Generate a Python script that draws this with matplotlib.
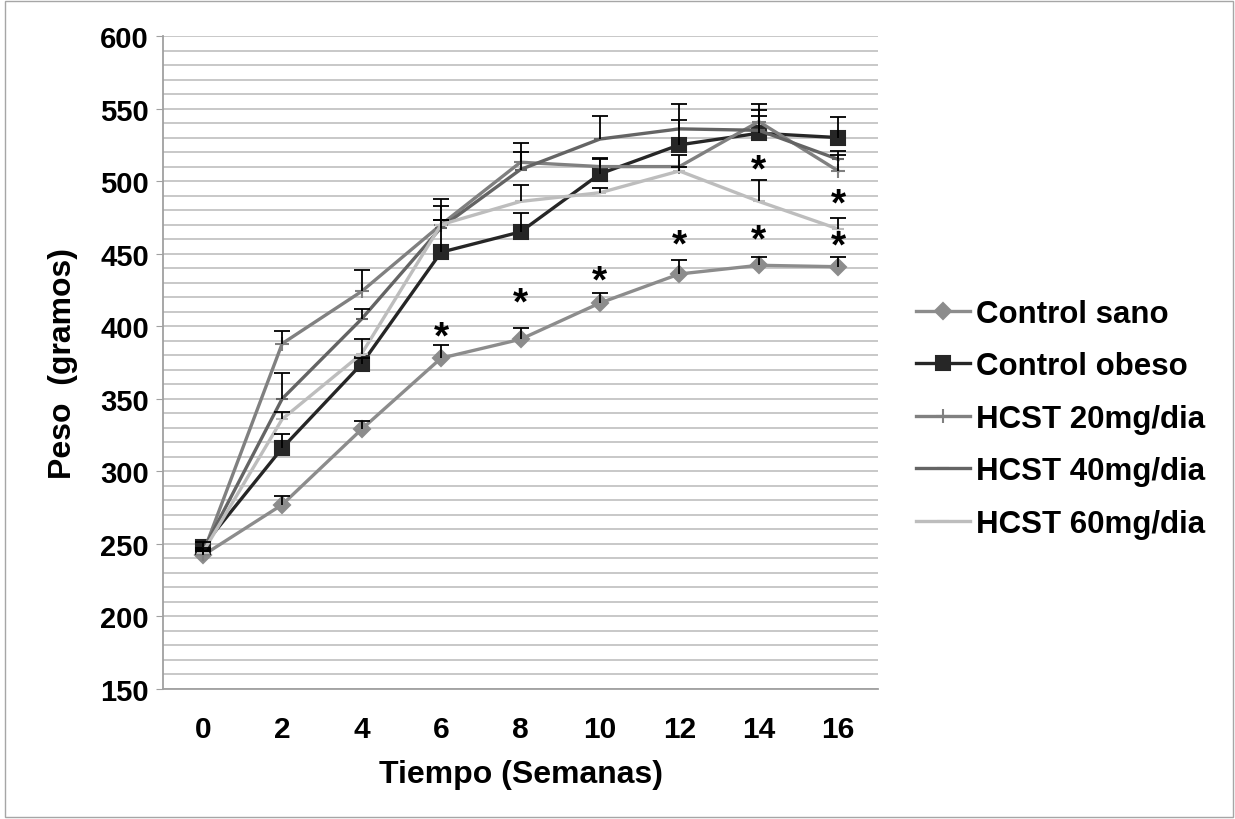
import matplotlib
matplotlib.use("Agg")
import matplotlib.pyplot as plt
from matplotlib.patches import Rectangle
import numpy as np

plt.rcParams['font.family'] = ['Liberation Sans', 'DejaVu Sans']
plt.rcParams['font.weight'] = 'bold'

weeks = ["0", "2", "4", "6", "8", "10", "12", "14", "16"]

sano = [242, 277, 329, 378, 391, 416, 436, 442, 441]
sano_err = [3, 6, 5.5, 9, 7.5, 7, 9.5, 6, 7]
obeso = [248, 316, 374, 451, 465, 505, 525, 533, 530]
obeso_err = [3, 10, 4, 37, 13, 11, 28, 12, 14]
h20 = [243, 388, 424, 470, 513, 510, 510, 541, 507]
h20_err = [2, 9, 15, 13, 13, 5, 8, 12, 14]
h40 = [245, 350, 405, 468, 508, 529, 536, 535, 515]
h40_err = [2, 18, 7, 5, 12, 16, 6, 14, 3]
h60 = [244, 336, 381, 470, 486, 492, 507, 486, 467]
h60_err = [2, 5, 10, 3, 11, 3, 3, 15, 7.5]

star_idx = [3, 4, 5, 6, 7, 8, 7, 8]
star_val = [392, 416, 430.6, 455.4, 458.9, 454.7, 507, 483.7]

labels = ["Control sano", "Control obeso", "HCST 20mg/dia", "HCST 40mg/dia", "HCST 60mg/dia"]
series = [sano, obeso, h20, h40, h60]
errs = [sano_err, obeso_err, h20_err, h40_err, h60_err]
colors = ["#8c8c8c", "#262626", "#808080", "#646464", "#bdbdbd"]
markers = ["D", "s", "+", "_", "_"]
msizes = [8, 10, 10, 9, 9]

fig = plt.figure(figsize=(12.35, 8.2), dpi=100)
ax = fig.add_axes([163/1235, 1-690/820, (878-163)/1235, (690-37)/820])

x = np.arange(len(weeks))
for vals, c, m, ms, lab in zip(series, colors, markers, msizes, labels):
    ax.plot(x, vals, color=c, lw=2.4, marker=m, ms=ms, mfc=c, mec=c, mew=1.5,
            label=lab, zorder=3)

for vals, e in zip(series, errs):
    lower = np.zeros(len(e))
    _, caps, _ = ax.errorbar(x, vals, yerr=[lower, e], fmt='none', ecolor='black',
                             elinewidth=1.3, capsize=6, capthick=1.3, zorder=4)
    caps[0].set_visible(False)

for i, v in zip(star_idx, star_val):
    ax.text(i, v, "*", ha='center', va='center', fontsize=28, fontweight='bold', zorder=5)

ax.set_xlim(-0.5, len(weeks) - 0.5)
ax.set_ylim(150, 600)
ax.set_xticks(x)
ax.set_xticklabels(weeks)
ax.set_yticks(np.arange(150, 601, 50))
ax.set_yticks(np.arange(150, 601, 10), minor=True)
ax.grid(True, which='both', axis='y', color='#c4c4c4', lw=1.3, zorder=0)
ax.set_axisbelow(True)
ax.tick_params(axis='y', which='major', length=5, color='#a0a0a0', labelsize=21, pad=5)
ax.tick_params(axis='y', which='minor', length=0)
ax.tick_params(axis='x', length=0, labelsize=21.5, pad=19)
for lab in ax.get_xticklabels() + ax.get_yticklabels():
    lab.set_fontweight('bold')
for s in ['top', 'right']:
    ax.spines[s].set_visible(False)
for s in ['left', 'bottom']:
    ax.spines[s].set_color('#a0a0a0')
    ax.spines[s].set_linewidth(1.3)

ax.set_xlabel("Tiempo (Semanas)", fontsize=23, fontweight='bold', labelpad=11)
ax.set_ylabel("Peso  (gramos)", fontsize=23, fontweight='bold', labelpad=16)

leg = ax.legend(loc='center left', bbox_to_anchor=(1.014, 0.414), frameon=False,
                handlelength=1.73, handletextpad=0.2, labelspacing=0.72,
                prop={'weight': 'bold', 'size': 22.5})

fig.patches.append(Rectangle((0.004, 0.002), 0.994, 0.996, transform=fig.transFigure,
                             fill=False, edgecolor='#a6a6a6', lw=1))

fig.savefig("out.png", dpi=100, facecolor='white')
